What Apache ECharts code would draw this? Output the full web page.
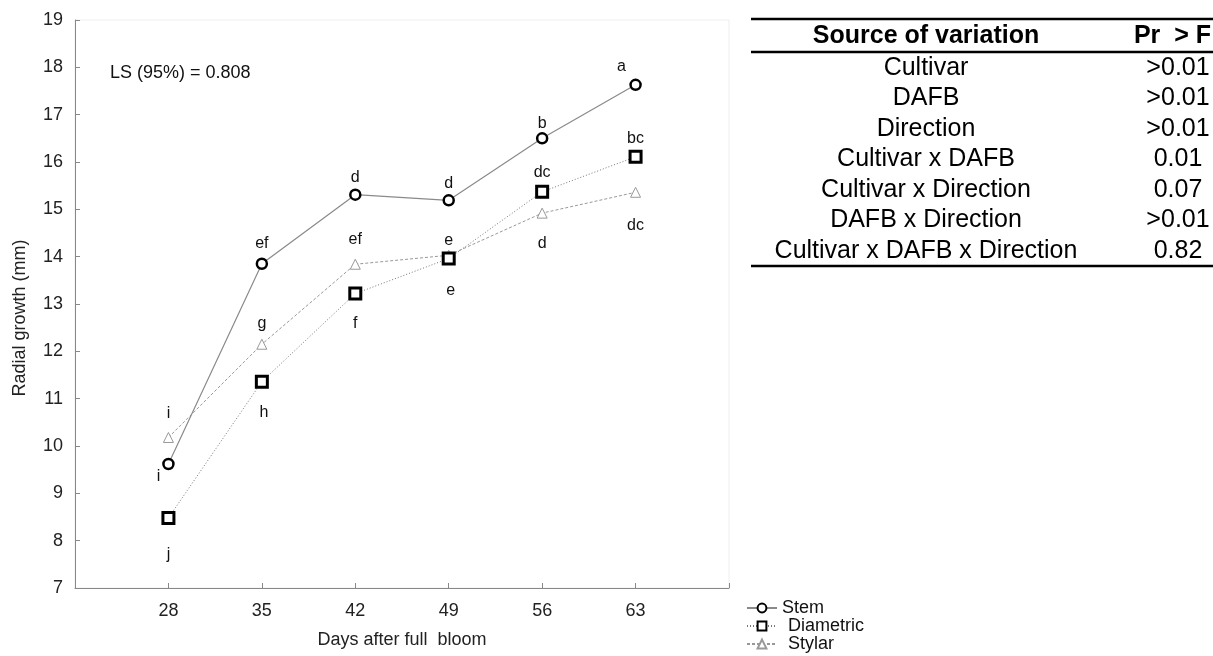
<!DOCTYPE html>
<html>
<head>
<meta charset="utf-8">
<script src="https://cdn.jsdelivr.net/npm/echarts@6/dist/echarts.min.js"></script>
<style>
html,body{margin:0;padding:0;background:#fff;}
#chart{width:1213px;height:656px;}
</style>
</head>
<body>
<div id="chart"></div>
<script>
// ---- data ----
const days = [28, 35, 42, 49, 56, 63];
const stem = [9.62, 13.85, 15.31, 15.19, 16.50, 17.63];
const diametric = [8.48, 11.36, 13.22, 13.96, 15.37, 16.11];
const stylar = [10.18, 12.15, 13.84, 14.03, 14.92, 15.36];
const stemLetters = ['i', 'ef', 'd', 'd', 'b', 'a'];
const diametricLetters = ['j', 'h', 'f', 'e', 'dc', 'bc'];
const stylarLetters = ['i', 'g', 'ef', 'e', 'd', 'dc'];
const yTicks = [7, 8, 9, 10, 11, 12, 13, 14, 15, 16, 17, 18, 19];
const sources = ['Cultivar', 'DAFB', 'Direction', 'Cultivar x DAFB', 'Cultivar x Direction', 'DAFB x Direction', 'Cultivar x DAFB x Direction'];
const pValues = ['>0.01', '>0.01', '>0.01', '0.01', '0.07', '>0.01', '0.82'];
const tableHeader = ['Source of variation', 'Pr  > F'];
const lsText = 'LS (95%) = 0.808';

// ---- label placement (style) ----
const stemOff = [[-10, 13], [0, -20], [0, -17], [0, -17], [0, -15], [-14, -18]];
const diaOff = [[0, 37], [2, 31], [0, 30], [2, 32], [0, -19], [0, -18]];
const styOff = [[0, -24], [0, -21], [0, -25], [0, -15], [0, 30], [0, 33]];

const FONT = 'Liberation Sans, Arial, sans-serif';

function build(vals, letters, offs) {
  return vals.map((v, i) => ({
    value: [days[i], v],
    label: {
      show: true, formatter: letters[i], position: 'inside',
      offset: offs[i], color: '#111', fontSize: 16, fontFamily: FONT
    }
  }));
}

const chart = echarts.init(document.getElementById('chart'), null, {renderer: 'canvas'});

// table graphics
const g = [];
const tL = 751, tR = 1213, c1 = 926, c2 = 1178;
const rowFont = 25, headFont = 25;
g.push({type: 'line', shape: {x1: tL, y1: 19, x2: tR, y2: 19}, style: {stroke: '#000', lineWidth: 2.5}});
g.push({type: 'text', x: c1, y: 36, style: {text: tableHeader[0], font: 'bold ' + headFont + 'px ' + FONT, fill: '#000', textAlign: 'center', textVerticalAlign: 'middle'}});
g.push({type: 'text', x: 1211, y: 36, style: {text: tableHeader[1], font: 'bold ' + headFont + 'px ' + FONT, fill: '#000', textAlign: 'right', textVerticalAlign: 'middle'}});
g.push({type: 'line', shape: {x1: tL, y1: 52, x2: tR, y2: 52}, style: {stroke: '#000', lineWidth: 2.5}});
const rowTop = 68, rowGap = 30.5;
sources.forEach((s, i) => {
  g.push({type: 'text', x: c1, y: rowTop + i * rowGap, style: {text: s, font: rowFont + 'px ' + FONT, fill: '#000', textAlign: 'center', textVerticalAlign: 'middle'}});
  g.push({type: 'text', x: c2, y: rowTop + i * rowGap, style: {text: pValues[i], font: rowFont + 'px ' + FONT, fill: '#000', textAlign: 'center', textVerticalAlign: 'middle'}});
});
g.push({type: 'line', shape: {x1: tL, y1: 266, x2: tR, y2: 266}, style: {stroke: '#000', lineWidth: 2.5}});
g.push({type: 'text', x: 110, y: 73, style: {text: lsText, font: '18px ' + FONT, fill: '#111', textVerticalAlign: 'middle'}});

const option = {
  animation: false,
  backgroundColor: '#fff',
  grid: {left: 75, right: 484, top: 20, bottom: 68, show: true, borderColor: '#eeeeee', borderWidth: 1},
  xAxis: {
    type: 'value', min: 21, max: 70, interval: 7,
    name: 'Days after full  bloom', nameLocation: 'middle', nameGap: 43,
    nameTextStyle: {fontSize: 18, color: '#222', fontFamily: FONT},
    axisLine: {lineStyle: {color: '#888', width: 1}},
    axisTick: {inside: true, length: 5, lineStyle: {color: '#888'}},
    axisLabel: {fontSize: 18, color: '#222', fontFamily: FONT, margin: 14,
      formatter: v => (days.indexOf(v) >= 0 ? String(v) : '')},
    splitLine: {show: false}
  },
  yAxis: {
    type: 'value', min: yTicks[0], max: yTicks[yTicks.length - 1], interval: 1,
    name: 'Radial growth (mm)', nameLocation: 'middle', nameGap: 46,
    nameTextStyle: {fontSize: 18, color: '#222', fontFamily: FONT, padding: [0, 28, 0, 0]},
    axisLine: {show: true, lineStyle: {color: '#888', width: 1}},
    axisTick: {show: true, inside: true, length: 5, lineStyle: {color: '#888'}},
    axisLabel: {fontSize: 18, color: '#222', fontFamily: FONT, margin: 12},
    splitLine: {show: false}
  },
  legend: {
    orient: 'vertical', left: 746, top: 599, padding: 0, itemGap: 0, itemWidth: 30, itemHeight: 11,
    textStyle: {fontSize: 18, lineHeight: 17.5, color: '#111', fontFamily: FONT},
    data: [
      {name: 'Stem'},
      {name: 'Diametric', textStyle: {padding: [0, 0, 0, 6]}},
      {name: 'Stylar', textStyle: {padding: [0, 0, 0, 6]}}
    ]
  },
  series: [
    {
      name: 'Stem', type: 'line', data: build(stem, stemLetters, stemOff), z: 5,
      symbol: 'circle', symbolSize: 10,
      lineStyle: {color: '#8a8a8a', width: 1.2, type: 'solid'},
      itemStyle: {color: '#fff', borderColor: '#000', borderWidth: 2.5}
    },
    {
      name: 'Diametric', type: 'line', data: build(diametric, diametricLetters, diaOff), z: 4,
      symbol: 'rect', symbolSize: 11,
      lineStyle: {color: '#777', width: 1, type: [1, 2]},
      itemStyle: {color: '#fff', borderColor: '#000', borderWidth: 3}
    },
    {
      name: 'Stylar', type: 'line', data: build(stylar, stylarLetters, styOff), z: 3,
      symbol: 'triangle', symbolSize: 10,
      lineStyle: {color: '#999', width: 1, type: [3, 2]},
      itemStyle: {color: '#fff', borderColor: '#999', borderWidth: 1}
    }
  ],
  graphic: g
};
chart.setOption(option);
</script>
</body>
</html>
